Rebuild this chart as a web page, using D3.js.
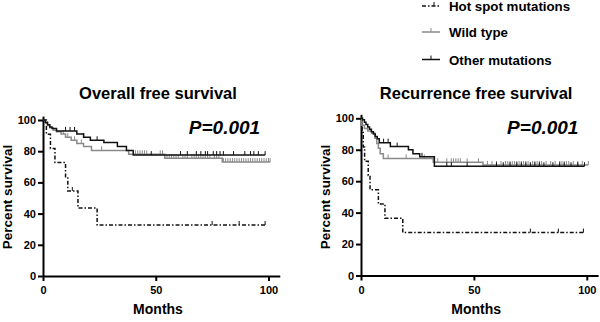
<!DOCTYPE html>
<html>
<head>
<meta charset="utf-8">
<script src="https://cdn.jsdelivr.net/npm/d3@7/dist/d3.min.js"></script>
<style>
  html, body { margin: 0; padding: 0; background: #fff; }
  svg { display: block; font-family: "Liberation Sans", Arial, sans-serif; }
</style>
</head>
<body>
<svg id="chart" width="600" height="322"></svg>
<script>
// ---------- DATA ----------
const seriesNames = ["Hot spot mutations", "Wild type", "Other mutations"];
const panelTitles = ["Overall free survival", "Recurrence free survival"];
const pValues = ["P=0.001", "P=0.001"];
const monthTicks = [0, 50, 100];
const percentTicks = [0, 20, 40, 60, 80, 100];
const xLabel = "Months";
const yLabel = "Percent survival";

// Overall survival – Hot spot mutations
const osHotTime = [0, 1.5, 3.3, 5.3, 10, 11, 15.5, 24];
const osHotSurv = [100, 90.9, 81.8, 72.7, 63.6, 54.5, 43.6, 32.7];
const osHotEnd = 98.5;
const osHotCens = [13, 75, 87, 98.5];
// Overall survival – Wild type
const osWildTime = [0, 1, 2, 3, 4.5, 6, 8, 10, 12.5, 15, 18, 21.5, 38, 54, 79.5];
const osWildSurv = [100, 98, 96.5, 95, 93.5, 92.5, 91, 89, 87, 85, 83, 80.5, 78, 75.5, 73];
const osWildEnd = 100.7;
const osWildCens = [9, 11, 14, 17, 26, 41, 42, 43, 44, 45, 46, 52, 53, 55, 56, 57, 58, 59, 60, 62, 63,
  64, 66, 67, 68, 69, 70, 71, 72, 73, 74, 76, 77, 78, 80, 81, 82, 83, 84, 85, 86, 87, 88, 89, 90,
  91, 92, 93, 94, 95, 96, 97, 98, 99, 100, 100.7];
// Overall survival – Other mutations
const osOtherTime = [0, 1, 2, 3, 4, 6, 15, 18, 21, 27, 33, 37, 40];
const osOtherSurv = [100, 98.5, 97, 95.5, 94.5, 93, 91, 89, 87, 85.5, 83, 80.5, 77.5];
const osOtherEnd = 98.5;
const osOtherCens = [10, 12, 14, 18, 24, 48, 61, 64, 68, 70, 72, 73, 75.5, 77, 78.5, 80, 84.5, 89.5, 92, 93.5, 95.5, 98.5];

// Recurrence free survival – Hot spot mutations
const rfsHotTime = [0, 0.5, 1.0, 1.6, 3.2, 4.0, 7.7, 10.6, 18.5];
const rfsHotSurv = [100, 90.9, 81.8, 72.7, 63.6, 54.5, 45.5, 36.4, 27.3];
const rfsHotEnd = 98.5;
const rfsHotCens = [75, 87.4, 98.5];
// Recurrence free survival – Wild type
const rfsWildTime = [0, 0.3, 1.5, 3, 4.7, 6.2, 7, 7.7, 8.5, 9.9, 32, 54];
const rfsWildSurv = [100, 95.5, 93.5, 92, 90.5, 87.3, 84, 81, 77.5, 74.5, 72, 70.3];
const rfsWildEnd = 100.7;
const rfsWildCens = [12, 20, 28, 34, 38, 40, 41, 42, 43, 44, 47, 52, 56, 58, 60, 62, 64, 65, 66, 67,
  68, 69, 70, 71, 72, 73, 74, 76, 77, 78, 79, 80, 82, 84, 86, 88, 89, 90, 91, 92, 94, 96, 98, 100.7];
// Recurrence free survival – Other mutations
const rfsOtherTime = [0, 0.7, 1.5, 2.2, 3, 3.8, 4.6, 5.5, 6.3, 7.2, 8.1, 13, 21, 23, 26, 32.5];
const rfsOtherSurv = [100, 99, 97.5, 96, 94.5, 93, 91.5, 90, 88.5, 87, 84.5, 82, 80, 77.5, 75.5, 69.5];
const rfsOtherEnd = 99;
const rfsOtherCens = [10, 12, 16, 27, 38, 40, 47, 60, 63, 66, 69, 71, 73, 75, 77, 79, 81, 85, 88, 90, 93, 96, 99];

// ---------- STYLE ----------
const styles = [
  { color: "#111", width: 1.5, dash: "4,2,1.5,2" },
  { color: "#8a8a8a", width: 1.5, dash: null },
  { color: "#111", width: 1.5, dash: null }
];

const panels = [
  { x0: 43, y0: 276, pxX: 2.255, pxY: 1.56, title: panelTitles[0], p: pValues[0],
    series: [
      { time: osHotTime, surv: osHotSurv, end: osHotEnd, cens: osHotCens },
      { time: osWildTime, surv: osWildSurv, end: osWildEnd, cens: osWildCens },
      { time: osOtherTime, surv: osOtherSurv, end: osOtherEnd, cens: osOtherCens }
    ] },
  { x0: 361, y0: 275.5, pxX: 2.258, pxY: 1.572, title: panelTitles[1], p: pValues[1],
    series: [
      { time: rfsHotTime, surv: rfsHotSurv, end: rfsHotEnd, cens: rfsHotCens },
      { time: rfsWildTime, surv: rfsWildSurv, end: rfsWildEnd, cens: rfsWildCens },
      { time: rfsOtherTime, surv: rfsOtherSurv, end: rfsOtherEnd, cens: rfsOtherCens }
    ] }
];

const svg = d3.select("#chart");
const FONT = "'Liberation Sans', Arial, sans-serif";

function survAt(s, t) {
  let v = s.surv[0];
  for (let i = 0; i < s.time.length; i++) if (s.time[i] <= t) v = s.surv[i];
  return v;
}

panels.forEach((pn, pi) => {
  const x = d3.scaleLinear().domain([0, 105]).range([pn.x0, pn.x0 + 105 * pn.pxX]);
  const y = d3.scaleLinear().domain([0, 102.5]).range([pn.y0, pn.y0 - 102.5 * pn.pxY]);
  const g = svg.append("g");

  // axes
  const xa = g.append("g").attr("transform", `translate(0,${pn.y0})`)
    .call(d3.axisBottom(x).tickValues(monthTicks).tickSize(5).tickSizeOuter(0).tickPadding(3));
  const ya = g.append("g").attr("transform", `translate(${pn.x0},0)`)
    .call(d3.axisLeft(y).tickValues(percentTicks).tickSize(5).tickSizeOuter(0).tickPadding(2));
  [xa, ya].forEach(a => {
    a.select(".domain").attr("stroke", "#000").attr("stroke-width", 2);
    a.selectAll(".tick line").attr("stroke", "#000").attr("stroke-width", 2);
    a.selectAll(".tick text").attr("fill", "#000").attr("font-family", FONT)
      .attr("font-size", 11).attr("font-weight", "bold");
  });
  xa.selectAll(".tick text").attr("dy", "0.95em");

  // curves
  const line = d3.line().x(d => x(d[0])).y(d => y(d[1])).curve(d3.curveStepAfter);
  pn.series.forEach((s, si) => {
    const pts = s.time.map((t, i) => [t, s.surv[i]]);
    pts.push([s.end, s.surv[s.surv.length - 1]]);
    const st = styles[si];
    g.append("path").datum(pts).attr("d", line)
      .attr("fill", "none").attr("stroke", st.color).attr("stroke-width", st.width)
      .attr("stroke-dasharray", st.dash);
    g.selectAll(null).data(s.cens).enter().append("line")
      .attr("x1", d => x(d)).attr("x2", d => x(d))
      .attr("y1", d => y(survAt(s, d))).attr("y2", d => y(survAt(s, d)) - 4)
      .attr("stroke", st.color).attr("stroke-width", 1);
  });

  // texts
  g.append("text").attr("x", x(51)).attr("y", 99).attr("text-anchor", "middle")
    .attr("font-family", FONT).attr("font-size", 16.5).attr("font-weight", "bold").text(pn.title);
  g.append("text").attr("x", x(96.3)).attr("y", 134).attr("text-anchor", "end")
    .attr("font-family", FONT).attr("font-size", 19).attr("font-weight", "bold")
    .attr("font-style", "italic").text(pn.p);
  g.append("text").attr("x", x(51)).attr("y", 314).attr("text-anchor", "middle")
    .attr("font-family", FONT).attr("font-size", 14).attr("font-weight", "bold").text(xLabel);
  g.append("text").attr("transform", `translate(${pn.x0 - 31},197) rotate(-90)`)
    .attr("text-anchor", "middle")
    .attr("font-family", FONT).attr("font-size", 13.5).attr("font-weight", "bold").text(yLabel);
});

// legend
const legY = [6, 32, 59.5];
const leg = svg.append("g");
seriesNames.forEach((nm, i) => {
  const st = styles[i];
  leg.append("line").attr("x1", 422).attr("x2", 440).attr("y1", legY[i]).attr("y2", legY[i])
    .attr("stroke", st.color).attr("stroke-width", 1.5).attr("stroke-dasharray", st.dash);
  const tx = i === 0 ? 434 : 431;
  leg.append("line").attr("x1", tx).attr("x2", tx).attr("y1", legY[i]).attr("y2", legY[i] - 4)
    .attr("stroke", st.color).attr("stroke-width", 1);
  leg.append("text").attr("x", 449).attr("y", legY[i] + 5)
    .attr("font-family", FONT).attr("font-size", 13.3).attr("font-weight", "bold").text(nm);
});
</script>
</body>
</html>
